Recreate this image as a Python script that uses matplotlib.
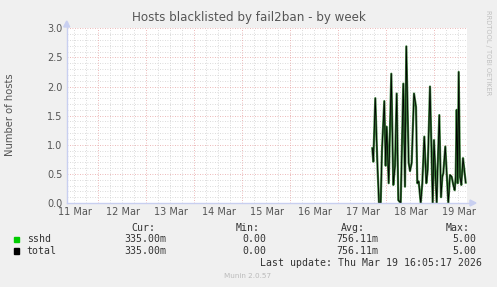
import matplotlib
matplotlib.use("Agg")
import matplotlib.pyplot as plt
import numpy as np

# ---- data (hours since 11 Mar 00:00) ----
hours = [161.3, 161.8, 162.8, 163.8, 164.65, 165.5, 166.15, 167.3, 168.0, 168.5,
         169.5, 170.8, 171.8, 172.65, 173.5, 174.3, 175.5, 176.8, 177.65, 178.3,
         179.5, 180.15, 181.0, 182.15, 183.15, 183.8, 184.5, 185.5, 186.3, 187.3,
         188.3, 189.0, 190.15, 191.5, 192.15, 193.5, 194.0, 194.8, 195.65, 196.3,
         196.8, 197.8, 199.3, 200.15, 201.0, 201.8, 202.5, 203.0, 203.5, 204.0,
         204.5, 205.15, 205.8, 206.65, 207.3, 208.0]
sshd = [0.94, 0.71, 1.80, 0.71, 0.0, 0.0, 0.91, 1.75, 0.64, 1.31,
        0.34, 2.22, 0.31, 0.64, 1.88, 0.05, 0.0, 2.05, 0.28, 2.69,
        0.69, 0.55, 0.69, 1.88, 1.65, 0.34, 0.37, 0.0, 0.34, 1.14,
        0.34, 0.57, 2.0, 0.0, 1.08, 0.0, 0.62, 1.51, 0.1, 0.45,
        0.51, 0.97, 0.0, 0.48, 0.45, 0.31, 0.22, 0.45, 1.6, 0.34,
        2.25, 0.45, 0.31, 0.77, 0.57, 0.35]
total = list(sshd)

day_labels = ["11 Mar", "12 Mar", "13 Mar", "14 Mar", "15 Mar", "16 Mar", "17 Mar", "18 Mar", "19 Mar"]
y_ticks = [0.0, 0.5, 1.0, 1.5, 2.0, 2.5, 3.0]

series_names = ["sshd", "total"]
series_colors = ["#00CC00", "#000000"]
cur_vals = ["335.00m", "335.00m"]
min_vals = ["0.00", "0.00"]
avg_vals = ["756.11m", "756.11m"]
max_vals = ["5.00", "5.00"]

W, H = 497, 287
fig = plt.figure(figsize=(W / 100, H / 100), dpi=100, facecolor="#F0F0F0")
x0, x1, ytop, ybot = 66.7, 466.7, 28.3, 203.0
ax = fig.add_axes([x0 / W, 1 - ybot / H, (x1 - x0) / W, (ybot - ytop) / H])
ax.set_facecolor("white")
xmin, xmax = 8.5, 208.5
ax.set_xlim(xmin, xmax)
ax.set_ylim(0, 3.0)
for s in ax.spines.values():
    s.set_visible(False)

minor_c = "#cfcfcf"
major_c = "#e6a0a0"
dot = (0, (1, 2))
# minor grid
for h in np.arange(12, xmax, 6):
    if h % 24 != 0:
        ax.axvline(h, color=minor_c, lw=0.6, ls=dot, zorder=1)
for v in np.arange(0.1, 3.0, 0.1):
    if abs(v * 2 - round(v * 2)) > 1e-6:
        ax.axhline(v, color=minor_c, lw=0.6, ls=dot, zorder=1)
# major grid
for h in np.arange(24, xmax, 24):
    ax.axvline(h, color=major_c, lw=0.6, ls=dot, zorder=2)
for v in y_ticks[1:]:
    ax.axhline(v, color=major_c, lw=0.6, ls=dot, zorder=2)

ax.set_yticks(y_ticks)
ax.set_yticklabels([f"{v:.1f}" for v in y_ticks])
ax.set_xticks([24 * i + 12.5 for i in range(len(day_labels))])
ax.set_xticklabels(day_labels)
ax.tick_params(axis="both", length=0, labelsize=7, colors="#555555", pad=3)

ax.plot(hours, sshd, color="#3c7f3c", lw=1.6, zorder=4)
ax.plot(hours, total, color="#000000", lw=0.6, zorder=5)

# axes lines with arrows
axis_c = "#c8cff0"
fig.add_artist(plt.Line2D([x0 / W, x0 / W], [1 - ybot / H, 1 - 22 / H], color=axis_c, lw=1.0))
fig.add_artist(plt.Line2D([x0 / W, 472 / W], [1 - ybot / H, 1 - ybot / H], color=axis_c, lw=1.0))
fig.add_artist(plt.Polygon([[(x0 - 3) / W, 1 - 27 / H], [(x0 + 3) / W, 1 - 27 / H], [x0 / W, 1 - 21 / H]],
                           closed=True, color=axis_c, transform=fig.transFigure))
fig.add_artist(plt.Polygon([[470 / W, 1 - (ybot - 3) / H], [470 / W, 1 - (ybot + 3) / H], [476 / W, 1 - ybot / H]],
                           closed=True, color=axis_c, transform=fig.transFigure))

fig.text(249 / W, 1 - 18 / H, "Hosts blacklisted by fail2ban - by week", ha="center", va="center",
         fontsize=8.6, color="#555555")
fig.text(10 / W, 1 - 115 / H, "Number of hosts", rotation=90, ha="center", va="center",
         fontsize=7.2, color="#555555")
fig.text(488 / W, 1 - 53 / H, "RRDTOOL / TOBI OETIKER", rotation=270, ha="center", va="center",
         fontsize=4.8, color="#c0c0c0")

mono = dict(family="DejaVu Sans Mono", fontsize=7.1, color="#333333", va="center")
hy = 1 - 228.3 / H
fig.text(155 / W, hy, "Cur:", ha="right", **mono)
fig.text(260 / W, hy, "Min:", ha="right", **mono)
fig.text(365 / W, hy, "Avg:", ha="right", **mono)
fig.text(470 / W, hy, "Max:", ha="right", **mono)
rows_y = [239.3, 251.0]
for i, name in enumerate(series_names):
    yy = 1 - rows_y[i] / H
    fig.add_artist(plt.Rectangle((14 / W, yy - 2.7 / H), 5.4 / W, 5.4 / H, color=series_colors[i],
                                 transform=fig.transFigure))
    fig.text(26.7 / W, yy, name, ha="left", **mono)
    fig.text(166.7 / W, yy, cur_vals[i], ha="right", **mono)
    fig.text(266.7 / W, yy, min_vals[i], ha="right", **mono)
    fig.text(378.3 / W, yy, avg_vals[i], ha="right", **mono)
    fig.text(476.7 / W, yy, max_vals[i], ha="right", **mono)
fig.text(482.3 / W, 1 - 263.3 / H, "Last update: Thu Mar 19 16:05:17 2026", ha="right", **mono)
fig.text(248 / W, 1 - 276 / H, "Munin 2.0.57", ha="center", va="center", fontsize=5.2, color="#bbbbbb")

fig.savefig("out.png", dpi=100, facecolor=fig.get_facecolor())
